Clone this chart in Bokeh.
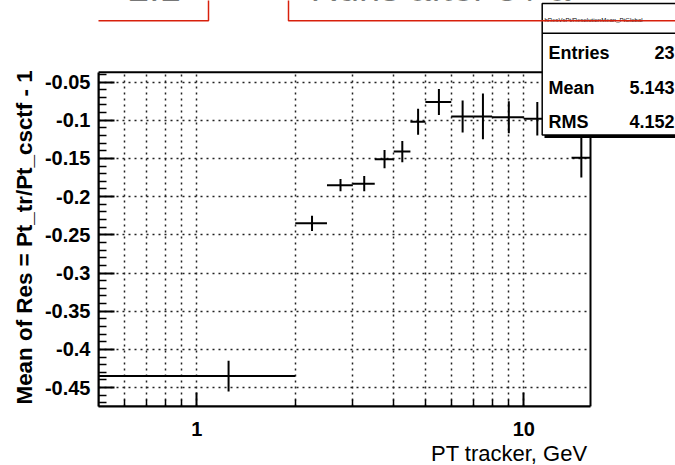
import math
from bokeh.plotting import figure
from bokeh.models import Range1d, FixedTicker, Label, BoxAnnotation, Title
from bokeh.embed import file_html
from bokeh.resources import INLINE

# ---- data ----
bin_lo = [0.5, 2.0, 2.5, 3.0, 3.5, 4.0, 4.5, 5.0, 6.0, 7.0, 8.0, 10.0, 12.0, 14.0]
bin_hi = [2.0, 2.5, 3.0, 3.5, 4.0, 4.5, 5.0, 6.0, 7.0, 8.0, 10.0, 12.0, 14.0, 16.0]
mean_res = [-0.435, -0.235, -0.185, -0.183, -0.151, -0.141, -0.102, -0.076,
            -0.095, -0.095, -0.096, -0.098, -0.095, -0.149]
mean_err = [0.020, 0.010, 0.008, 0.010, 0.012, 0.014, 0.017, 0.017,
            0.021, 0.030, 0.021, 0.022, 0.015, 0.026]

y_tick_values = [-0.45, -0.4, -0.35, -0.3, -0.25, -0.2, -0.15, -0.1, -0.05]
y_tick_labels = ["-0.45", "-0.4", "-0.35", "-0.3", "-0.25", "-0.2", "-0.15", "-0.1", "-0.05"]
y_minor_ticks = [-0.47, -0.46, -0.44, -0.43, -0.42, -0.41, -0.39, -0.38, -0.37, -0.36,
                 -0.34, -0.33, -0.32, -0.31, -0.29, -0.28, -0.27, -0.26, -0.24, -0.23,
                 -0.22, -0.21, -0.19, -0.18, -0.17, -0.16, -0.14, -0.13, -0.12, -0.11,
                 -0.09, -0.08, -0.07, -0.06, -0.04]
x_tick_values = [1, 10]
x_tick_labels = ["1", "10"]
x_minor_ticks = [0.6, 0.7, 0.8, 0.9, 2, 3, 4, 5, 6, 7, 8, 9]

x_title = "PT tracker, GeV"
y_title = "Mean of Res = Pt_tr/Pt_csctf - 1"
stats_header = "hResVsPt/ResolutionMean_PtGlobal"
stats_names = ["Entries", "Mean", "RMS"]
stats_values = ["23", "5.143", "4.152"]
title_left = "η < 2.1"
title_right = "Runs after 8 / a"

# visible (ROOT-style) axis extents
X_MIN, X_MAX = 0.5, 16.0
Y_MIN, Y_MAX = -0.4748, -0.037

FONT = "Liberation Sans"

# ---- layout geometry (pixels on the canvas) ----
W, H = 675, 465
FL, FR, FT, FB = 98, 590, 72, 408      # ROOT frame box on the canvas
BOTTOM = H - FB

# Bokeh frame covers everything right of / above the ROOT frame, so the
# stats box and title boxes (which straddle the frame) can be drawn.
lx0, lx1 = math.log10(X_MIN), math.log10(X_MAX)
x_end = 10 ** (lx0 + (W - FL) / (FR - FL) * (lx1 - lx0))
y_end = Y_MIN + (FB - 0) / (FB - FT) * (Y_MAX - Y_MIN)

centers = [(a + b) / 2 for a, b in zip(bin_lo, bin_hi)]
err_lo = [m - e for m, e in zip(mean_res, mean_err)]
err_hi = [m + e for m, e in zip(mean_res, mean_err)]

p = figure(width=W, height=H, x_axis_type="log", title=None,
           x_range=Range1d(X_MIN, x_end), y_range=Range1d(Y_MIN, y_end),
           output_backend="svg", toolbar_location=None,
           min_border_left=FL, min_border_right=0,
           min_border_top=0, min_border_bottom=BOTTOM)
p.background_fill_color = "white"
p.border_fill_color = "white"
p.outline_line_color = None

# axes
p.xaxis.ticker = FixedTicker(ticks=x_tick_values, minor_ticks=x_minor_ticks)
p.yaxis.ticker = FixedTicker(ticks=y_tick_values, minor_ticks=y_minor_ticks)
p.xaxis.major_label_overrides = dict(zip(x_tick_values, x_tick_labels))
p.yaxis.major_label_overrides = dict(zip(y_tick_values, y_tick_labels))
p.xaxis.bounds = (X_MIN, X_MAX)
p.yaxis.bounds = (Y_MIN, Y_MAX)
for ax in (p.xaxis[0], p.yaxis[0]):
    ax.axis_line_color = "black"
    ax.axis_line_width = 2
    ax.major_tick_out = 0
    ax.minor_tick_out = 0
    ax.major_tick_line_width = 2
    ax.minor_tick_line_width = 1.5
    ax.major_label_text_font = FONT
    ax.major_label_text_font_style = "bold"
    ax.major_label_text_color = "black"
p.yaxis.major_tick_in = 16
p.yaxis.minor_tick_in = 8
p.xaxis.major_tick_in = 14
p.xaxis.minor_tick_in = 7
p.yaxis.major_label_text_font_size = "20px"
p.xaxis.major_label_text_font_size = "20px"
p.yaxis.major_label_standoff = 8
p.xaxis.major_label_standoff = 15

# y-axis title, starting at the bottom of the visible frame
p.add_layout(Title(text=y_title, align="left", text_font=FONT, text_font_size="22.4px",
                   text_font_style="bold", text_color="black",
                   offset=2, standoff=10), "left")

# x-axis title, right aligned with the visible frame, below the axis
p.add_layout(Title(text=x_title, align="right", text_font=FONT, text_font_size="22px",
                   text_font_style="normal", text_color="black",
                   offset=(W - FR) + 3, standoff=0), "below")

# grid (dotted, ROOT style)
for g in (p.xgrid[0], p.ygrid[0]):
    g.grid_line_color = "#222222"
    g.grid_line_dash = "2 4"
    g.grid_line_width = 1.5
p.xgrid.minor_grid_line_color = "#222222"
p.xgrid.minor_grid_line_dash = "2 4"
p.xgrid.minor_grid_line_width = 1.5

# error-bar crosses
p.segment(x0=bin_lo, y0=mean_res, x1=bin_hi, y1=mean_res, line_color="black", line_width=2)
p.segment(x0=centers, y0=err_lo, x1=centers, y1=err_hi, line_color="black", line_width=2)

# blank out the area outside the ROOT frame
p.add_layout(BoxAnnotation(bottom=Y_MAX, fill_color="white", fill_alpha=1, line_color=None))
p.add_layout(BoxAnnotation(left=X_MAX, fill_color="white", fill_alpha=1, line_color=None))
# ROOT frame
p.add_layout(BoxAnnotation(left=X_MIN, right=X_MAX, bottom=Y_MIN, top=Y_MAX,
                           fill_color=None, line_color="black", line_alpha=1, line_width=2))

def sx(x):  # canvas x -> frame-relative screen units
    return x - FL

def sy(y):  # canvas y (down) -> frame-relative screen units (up)
    return FB - y

def label(x, y, text, size, align, bold=False):
    return Label(x=sx(x), y=sy(y), x_units="screen", y_units="screen", text=text,
                 text_font=FONT, text_font_size=size, text_color="black",
                 text_font_style="bold" if bold else "normal",
                 text_align=align, text_baseline="middle")

# title texts (mostly cut off at the top)
p.add_layout(label(63, -11, title_left, "38px", "left"))
p.add_layout(label(310, -11, title_right, "38px", "left"))

def sbox(x0, x1, y0, y1, **kw):
    return BoxAnnotation(left=sx(x0), right=sx(x1), top=sy(y0), bottom=sy(y1),
                         left_units="screen", right_units="screen",
                         bottom_units="screen", top_units="screen", **kw)

# stats box with shadow
p.add_layout(sbox(544, 700, 8, 139.5, fill_color="black", fill_alpha=1, line_color=None))
p.add_layout(sbox(541.7, 700, 5, 136.5, fill_color="white", fill_alpha=1,
                  line_color="black", line_alpha=1, line_width=1.5))
p.add_layout(sbox(541.7, 700, 34, 35.5, fill_color="black", fill_alpha=1, line_color=None))
p.add_layout(label(544, 21, stats_header, "6px", "left"))
stat_rows = [54, 89, 123]
for name, val, yy in zip(stats_names, stats_values, stat_rows):
    p.add_layout(label(548, yy, name, "18px", "left", bold=True))
    p.add_layout(label(674, yy, val, "18px", "right", bold=True))

# red title frames (drawn on top)
p.add_layout(sbox(-30, 208, -20, 22.3, fill_color=None, line_color="#d8200c",
                  line_alpha=1, line_width=1.5))
p.add_layout(sbox(288, 700, -20, 22.3, fill_color=None, line_color="#d8200c",
                  line_alpha=1, line_width=1.5))

open("out.html", "w").write(file_html(p, INLINE))
